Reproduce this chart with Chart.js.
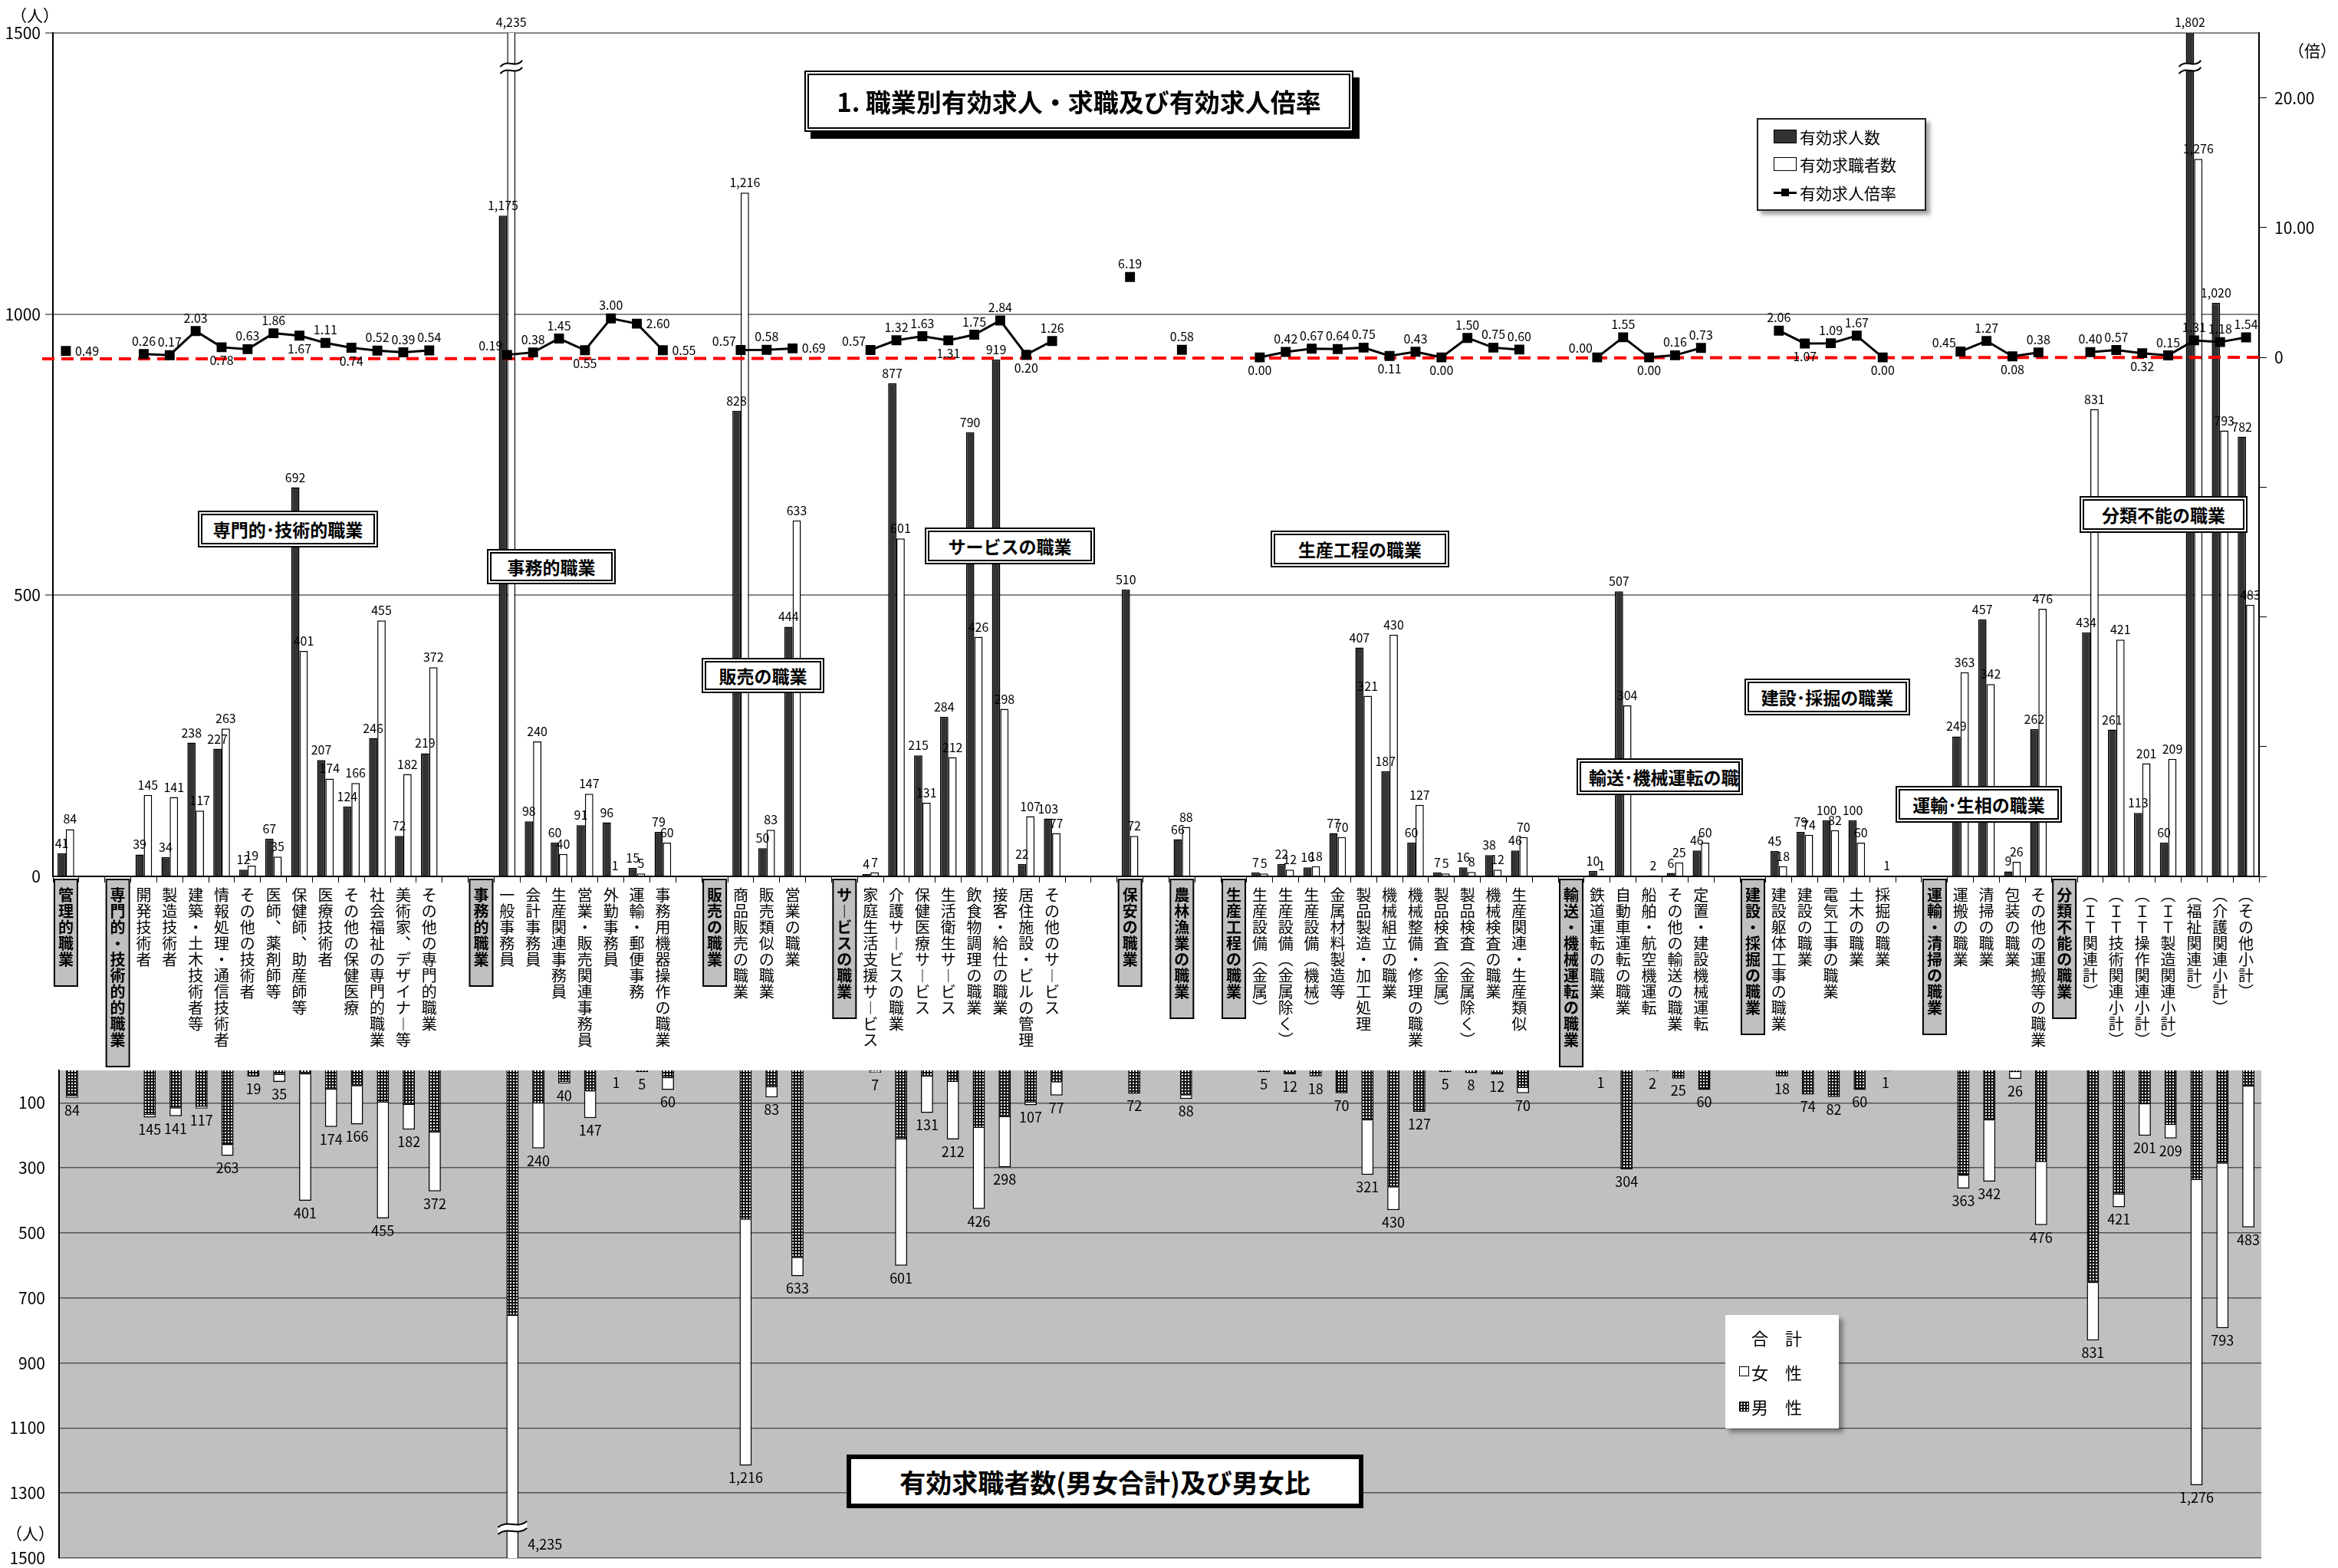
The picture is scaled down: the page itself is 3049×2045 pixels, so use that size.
<!DOCTYPE html>
<html lang="ja">
<head>
<meta charset="utf-8">
<title>職業別有効求人・求職及び有効求人倍率</title>
<script src="https://cdn.jsdelivr.net/npm/chart.js@4.4.1/dist/chart.umd.min.js"></script>
<style>
  body { margin: 0; background: #fff; }
  #wrap { position: relative; width: 3049px; height: 2045px; overflow: hidden; font-family: "Noto Sans CJK JP", sans-serif; color: #000; }
  canvas { position: absolute; left: 0; }
  .box { position: absolute; box-sizing: border-box; background: #fff; display: flex; align-items: center; justify-content: center; font-weight: bold; white-space: nowrap; overflow: hidden; }
  .grp { border: 6px double #000; font-size: 23px; }
  .unit { position: absolute; font-size: 21px; }
  .legend { position: absolute; box-sizing: border-box; background: #fff; box-shadow: 5px 5px 5px rgba(0,0,0,0.35); display: flex; flex-direction: column; justify-content: space-around; font-size: 21px; }
  .legend .item { display: flex; align-items: center; white-space: nowrap; }
  .sw { display: inline-block; box-sizing: border-box; border: 1.5px solid #000; }
</style>
</head>
<body>
<div id="wrap">
  <canvas id="topChart" width="3049" height="1395" style="top:0"></canvas>
  <canvas id="bottomChart" width="3049" height="650" style="top:1395px"></canvas>

  <div class="unit" style="left:14px;top:4px">（人）</div>
  <div class="unit" style="left:2984px;top:50px">（倍）</div>
  <div class="unit" style="left:8px;top:1984px">（人）</div>

  <div class="box" style="left:1049px;top:92px;width:716px;height:80px;border:6px double #000;box-shadow:8px 9px 0 #000;font-size:33px">1. 職業別有効求人・求職及び有効求人倍率</div>

  <div class="legend" style="left:2291px;top:154px;width:221px;height:121px;border:2px solid #222;padding:4px 0 4px 20px">
    <div class="item"><span class="sw" style="width:30px;height:18px;background:#333;margin-right:4px"></span>有効求人数</div>
    <div class="item"><span class="sw" style="width:30px;height:18px;background:#fff;margin-right:4px"></span>有効求職者数</div>
    <div class="item"><span style="position:relative;display:inline-block;width:30px;height:18px;margin-right:4px"><span style="position:absolute;left:0;top:8px;width:30px;height:3px;background:#000"></span><span style="position:absolute;left:10px;top:4px;width:10px;height:10px;background:#000"></span></span>有効求人倍率</div>
  </div>

  <div class="box grp" style="left:258px;top:666px;width:235px;height:48px">専門的･技術的職業</div>
  <div class="box grp" style="left:635px;top:716px;width:168px;height:46px">事務的職業</div>
  <div class="box grp" style="left:915px;top:858px;width:160px;height:46px">販売の職業</div>
  <div class="box grp" style="left:1206px;top:688px;width:222px;height:48px">サービスの職業</div>
  <div class="box grp" style="left:1657px;top:692px;width:233px;height:48px">生産工程の職業</div>
  <div class="box grp" style="left:2056px;top:989px;width:217px;height:48px;justify-content:flex-start;padding-left:10px">輸送･機械運転の職</div>
  <div class="box grp" style="left:2275px;top:885px;width:216px;height:48px">建設･採掘の職業</div>
  <div class="box grp" style="left:2472px;top:1025px;width:217px;height:48px">運輸･生相の職業</div>
  <div class="box grp" style="left:2712px;top:647px;width:219px;height:48px">分類不能の職業</div>

  <div class="legend" style="left:2250px;top:1715px;width:148px;height:148px;font-size:22px;padding:6px 0 6px 18px;box-shadow:5px 5px 6px rgba(0,0,0,0.4)">
    <div class="item"><span style="display:inline-block;width:16px"></span>合　計</div>
    <div class="item"><span class="sw" style="width:13px;height:13px;background:#fff;margin-right:3px"></span>女　性</div>
    <div class="item"><span id="maleSw" class="sw" style="width:13px;height:13px;background:#111;margin-right:3px"></span>男　性</div>
  </div>

  <div class="box" style="left:1104px;top:1897px;width:674px;height:70px;border:6px solid #000;font-size:34px">有効求職者数(男女合計)及び男女比</div>
</div>

<script>
const _ = null;

// slots along the x axis (empty strings are spacer slots)
const categories = [
  '管理的職業', '',
  '専門的・技術的的職業', '開発技術者', '製造技術者', '建築・土木技術者等', '情報処理・通信技術者', 'その他の技術者',
  '医師、薬剤師等', '保健師、助産師等', '医療技術者', 'その他の保健医療', '社会福祉の専門的職業', '美術家、デザイナー等', 'その他の専門的職業',
  '', '事務的職業', '一般事務員', '会計事務員', '生産関連事務員', '営業・販売関連事務員', '外勤事務員', '運輸・郵便事務', '事務用機器操作の職業',
  '', '販売の職業', '商品販売の職業', '販売類似の職業', '営業の職業',
  '', 'サービスの職業', '家庭生活支援サービス', '介護サービスの職業', '保健医療サービス', '生活衛生サービス', '飲食物調理の職業', '接客・給仕の職業', '居住施設・ビルの管理', 'その他のサービス',
  '', '', '保安の職業', '', '農林漁業の職業', '',
  '生産工程の職業', '生産設備（金属）', '生産設備（金属除く）', '生産設備（機械）', '金属材料製造等', '製品製造・加工処理', '機械組立の職業', '機械整備・修理の職業',
  '製品検査（金属）', '製品検査（金属除く）', '機械検査の職業', '生産関連・生産類似',
  '', '輸送・機械運転の職業', '鉄道運転の職業', '自動車運転の職業', '船舶・航空機運転', 'その他の輸送の職業', '定置・建設機械運転',
  '', '建設・採掘の職業', '建設躯体工事の職業', '建設の職業', '電気工事の職業', '土木の職業', '採掘の職業',
  '', '運輸・清掃の職業', '運搬の職業', '清掃の職業', '包装の職業', 'その他の運搬等の職業',
  '分類不能の職業', '（ＩＴ関連計）', '（ＩＴ技術関連小計）', '（ＩＴ操作関連小計）', '（ＩＴ製造関連小計）', '（福祉関連計）', '（介護関連小計）', '（その他小計）'
];

const groupHeads = ['管理的職業', '専門的・技術的的職業', '事務的職業', '販売の職業', 'サービスの職業', '保安の職業', '農林漁業の職業',
  '生産工程の職業', '輸送・機械運転の職業', '建設・採掘の職業', '運輸・清掃の職業', '分類不能の職業'];

// 有効求人数
const jobOffers = [
  41, _,
  _, 39, 34, 238, 227, 12, 67, 692, 207, 124, 246, 72, 219,
  _, _, 1175, 98, 60, 91, 96, 15, 79,
  _, _, 828, 50, 444,
  _, _, 4, 877, 215, 284, 790, 919, 22, 103,
  _, _, 510, _, 66, _,
  _, 7, 22, 16, 77, 407, 187, 60, 7, 16, 38, 46,
  _, _, 10, 507, 0, 6, 46,
  _, _, 45, 79, 100, 100, 0,
  _, _, 249, 457, 9, 262,
  _, 434, 261, 113, 60, 1802, 1020, 782
];

// 有効求職者数 (男女合計)
const jobSeekers = [
  84, _,
  _, 145, 141, 117, 263, 19, 35, 401, 174, 166, 455, 182, 372,
  _, _, 4235, 240, 40, 147, 1, 5, 60,
  _, _, 1216, 83, 633,
  _, _, 7, 601, 131, 212, 426, 298, 107, 77,
  _, _, 72, _, 88, _,
  _, 5, 12, 18, 70, 321, 430, 127, 5, 8, 12, 70,
  _, _, 1, 304, 2, 25, 60,
  _, _, 18, 74, 82, 60, 1,
  _, _, 363, 342, 26, 476,
  _, 831, 421, 201, 209, 1276, 793, 483
];

// 有効求人倍率
const offerRatio = [
  0.49, _,
  _, 0.26, 0.17, 2.03, 0.78, 0.63, 1.86, 1.67, 1.11, 0.74, 0.52, 0.39, 0.54,
  _, _, 0.19, 0.38, 1.45, 0.55, 3.00, 2.60, 0.55,
  _, _, 0.57, 0.58, 0.69,
  _, _, 0.57, 1.32, 1.63, 1.31, 1.75, 2.84, 0.20, 1.26,
  _, _, 6.19, _, 0.58, _,
  _, 0.00, 0.42, 0.67, 0.64, 0.75, 0.11, 0.43, 0.00, 1.50, 0.75, 0.60,
  _, _, 0.00, 1.55, 0.00, 0.16, 0.73,
  _, _, 2.06, 1.07, 1.09, 1.67, 0.00,
  _, _, 0.45, 1.27, 0.08, 0.38,
  _, 0.40, 0.57, 0.32, 0.15, 1.31, 1.18, 1.54
];

// 有効求職者数 男性
const seekersMale = [
  79, _,
  _, 137, 117, 112, 230, 19, 14, 12, 59, 49, 99, 106, 191,
  _, _, 755, 102, 35, 65, 1, 5, 24,
  _, _, 459, 52, 577,
  _, _, 3, 212, 19, 35, 177, 144, 99, 37,
  _, _, 72, _, 77, _,
  _, 5, 12, 18, 70, 154, 360, 127, 5, 8, 12, 54,
  _, _, 1, 304, 2, 25, 60,
  _, _, 18, 74, 82, 60, 1,
  _, _, 324, 154, 5, 282,
  _, 654, 382, 104, 168, 337, 287, 50
];

// 有効求職者数 女性
const seekersFemale = [
  5, _,
  _, 8, 24, 5, 33, 0, 21, 389, 115, 117, 356, 76, 181,
  _, _, 3480, 138, 5, 82, 0, 0, 36,
  _, _, 757, 31, 56,
  _, _, 4, 389, 112, 177, 249, 154, 8, 40,
  _, _, 0, _, 11, _,
  _, 0, 0, 0, 0, 167, 70, 0, 0, 0, 0, 16,
  _, _, 0, 0, 0, 0, 0,
  _, _, 0, 0, 0, 0, 0,
  _, _, 39, 188, 21, 194,
  _, 177, 39, 97, 41, 939, 506, 433
];

const rightTicks = [-40, -30, -20, -10, 0, 10, 20];
const bottomTicks = [100, 300, 500, 700, 900, 1100, 1300, 1500];

// where each ratio label sits relative to its point (default: above)
const ratioPlace = { 0: 'right', 6: 'below', 9: 'below', 11: 'below', 17: 'left', 20: 'below', 22: 'right', 23: 'right',
  26: 'left', 28: 'right', 31: 'left', 34: 'below', 37: 'below', 46: 'below', 51: 'below', 53: 'below', 59: 'left',
  61: 'below', 67: 'below', 70: 'below', 73: 'left', 75: 'below', 80: 'below' };

const JP = '"Noto Sans CJK JP", "Noto Sans", sans-serif';
Chart.defaults.font.family = JP;
Chart.defaults.color = '#000';

const vertForms = { 'ー': '︱', '（': '︵', '）': '︶', '、': '︑' };
const toVertical = (s) => s ? Array.from(s).map((c) => vertForms[c] || c) : '';
const fmt = (v) => v.toLocaleString('en-US');

function drawBreak(ctx, x, y, half) {
  const gap = 9;
  const curve = (dy) => {
    ctx.moveTo(x - half, y + 4 + dy);
    ctx.bezierCurveTo(x - half / 3, y - 7 + dy, x + half / 3, y + 7 + dy, x + half, y - 4 + dy);
  };
  ctx.save();
  ctx.beginPath();
  curve(0);
  ctx.lineTo(x + half, y - 4 + gap);
  ctx.bezierCurveTo(x + half / 3, y + 7 + gap, x - half / 3, y - 7 + gap, x - half, y + 4 + gap);
  ctx.closePath();
  ctx.fillStyle = '#fff';
  ctx.fill();
  ctx.strokeStyle = '#000';
  ctx.lineWidth = 2;
  ctx.beginPath();
  curve(0);
  curve(gap);
  ctx.stroke();
  ctx.restore();
}

// gray boxes behind the group names on the x axis
const groupBoxes = {
  id: 'groupBoxes',
  beforeDraw(chart) {
    const { ctx, chartArea } = chart;
    const x = chart.scales.x;
    ctx.save();
    categories.forEach((c, i) => {
      if (!groupHeads.includes(c)) return;
      const px = x.getPixelForValue(i);
      const h = Array.from(c).length * 21 + 34;
      ctx.fillStyle = '#c0c0c0';
      ctx.fillRect(px - 15, chartArea.bottom + 4, 30, h);
      ctx.strokeStyle = '#000';
      ctx.lineWidth = 2;
      ctx.strokeRect(px - 15, chartArea.bottom + 4, 30, h);
    });
    ctx.restore();
  }
};

const topLabels = {
  id: 'topLabels',
  beforeDatasetDraw(chart, args) {
    if (args.index !== 0) return;
    const { ctx, chartArea } = chart;
    const y = chart.scales.y1.getPixelForValue(0);
    ctx.save();
    ctx.strokeStyle = '#ff0000';
    ctx.lineWidth = 4;
    ctx.setLineDash([16, 9]);
    ctx.beginPath();
    ctx.moveTo(chartArea.left - 14, y + 2);
    ctx.lineTo(chartArea.right, y);
    ctx.stroke();
    ctx.restore();
  },
  afterDatasetsDraw(chart) {
    const { ctx, chartArea } = chart;
    const yMax = chart.scales.y.max;
    ctx.save();
    ctx.font = '16px ' + JP;
    ctx.fillStyle = '#000';
    [1, 2].forEach((di) => {
      const data = chart.data.datasets[di].data;
      chart.getDatasetMeta(di).data.forEach((el, i) => {
        const v = data[i];
        if (!v) return;
        ctx.textAlign = 'center';
        ctx.textBaseline = 'bottom';
        if (v > yMax) {
          drawBreak(ctx, el.x, chartArea.top + 40, el.width / 2 + 9);
          ctx.fillText(fmt(v), el.x, chartArea.top - 6);
        } else {
          ctx.fillText(fmt(v), el.x, el.y - 5);
        }
      });
    });
    const ratios = chart.data.datasets[0].data;
    chart.getDatasetMeta(0).data.forEach((el, i) => {
      const v = ratios[i];
      if (v === null) return;
      const place = ratioPlace[i] || 'above';
      const t = v.toFixed(2);
      if (place === 'below') { ctx.textAlign = 'center'; ctx.textBaseline = 'top'; ctx.fillText(t, el.x, el.y + 9); }
      else if (place === 'right') { ctx.textAlign = 'left'; ctx.textBaseline = 'middle'; ctx.fillText(t, el.x + 12, el.y); }
      else if (place === 'left') { ctx.textAlign = 'right'; ctx.textBaseline = 'bottom'; ctx.fillText(t, el.x - 6, el.y - 4); }
      else { ctx.textAlign = 'center'; ctx.textBaseline = 'bottom'; ctx.fillText(t, el.x, el.y - 9); }
    });
    ctx.restore();
  }
};

new Chart(document.getElementById('topChart'), {
  type: 'bar',
  data: {
    labels: categories.map(toVertical),
    datasets: [
      { type: 'line', label: '有効求人倍率', data: offerRatio, yAxisID: 'y1', order: 0,
        borderColor: '#000', borderWidth: 3, pointStyle: 'rect', pointRadius: 7,
        pointBackgroundColor: '#000', pointBorderColor: '#000', spanGaps: false, tension: 0 },
      { label: '有効求人数', data: jobOffers, yAxisID: 'y', order: 1, clip: 0,
        backgroundColor: '#333333', borderColor: '#000', borderWidth: 1.5 },
      { label: '有効求職者数', data: jobSeekers, yAxisID: 'y', order: 1, clip: 0,
        backgroundColor: '#ffffff', borderColor: '#000', borderWidth: 1.5 }
    ]
  },
  options: {
    responsive: false,
    animation: false,
    layout: { padding: { top: 43, left: 0, right: 0, bottom: 0 } },
    plugins: { legend: { display: false }, tooltip: { enabled: false } },
    datasets: { bar: { categoryPercentage: 0.64, barPercentage: 1 } },
    scales: {
      x: {
        grid: { offset: true, drawOnChartArea: false, tickLength: 8, color: '#000' },
        border: { color: '#000', width: 2 },
        ticks: {
          autoSkip: false, maxRotation: 0, minRotation: 0, padding: 6, color: '#000',
          font: (ctx) => ({ family: JP, size: 20, lineHeight: 1.05,
            weight: groupHeads.includes(categories[ctx.index]) ? 'bold' : 'normal' })
        },
        afterFit: (s) => { s.height = 252; }
      },
      y: {
        min: 0, max: 1500,
        ticks: { stepSize: 500, padding: 6, font: { size: 21 }, callback: (v) => String(v) },
        grid: { color: (ctx) => ctx.tick.value === 0 ? 'rgba(0,0,0,0)' : '#888', lineWidth: 2, tickLength: 10 },
        border: { color: '#000', width: 2 },
        afterFit: (s) => { s.width = 69; }
      },
      y1: {
        position: 'right', min: -40, max: 25,
        afterBuildTicks: (s) => { s.ticks = rightTicks.map((v) => ({ value: v })); },
        ticks: {
          padding: 10, font: { size: 21 },
          callback: (v) => v === 0 ? '0' : (v > 0 ? v.toFixed(2) : '')
        },
        grid: { drawOnChartArea: false, tickLength: 10, color: '#000' },
        border: { color: '#000', width: 2 },
        afterFit: (s) => { s.width = 103; }
      }
    }
  },
  plugins: [groupBoxes, topLabels]
});

// stipple fill for the male part
const pc = document.createElement('canvas');
pc.width = 4; pc.height = 4;
const pctx = pc.getContext('2d');
pctx.fillStyle = '#111';
pctx.fillRect(0, 0, 4, 4);
pctx.fillStyle = '#fff';
pctx.fillRect(1, 1, 2, 2);
const bottomCanvas = document.getElementById('bottomChart');
const dotPattern = bottomCanvas.getContext('2d').createPattern(pc, 'repeat');
document.getElementById('maleSw').style.background = 'url(' + pc.toDataURL() + ')';

const grayBack = {
  id: 'grayBack',
  beforeDraw(chart) {
    const { ctx, chartArea } = chart;
    ctx.save();
    ctx.fillStyle = '#c0c0c0';
    ctx.fillRect(chartArea.left, chartArea.top, chartArea.right - chartArea.left, chartArea.bottom - chartArea.top);
    ctx.restore();
  }
};

const totalLabels = {
  id: 'totalLabels',
  afterDatasetsDraw(chart) {
    const { ctx, chartArea } = chart;
    const y = chart.scales.y;
    ctx.save();
    ctx.font = '18px ' + JP;
    ctx.fillStyle = '#000';
    chart.getDatasetMeta(1).data.forEach((el, i) => {
      const v = jobSeekers[i];
      if (!v) return;
      if (v > y.max) {
        drawBreak(ctx, el.x, chartArea.bottom - 44, el.width / 2 + 11);
        ctx.textAlign = 'left';
        ctx.textBaseline = 'middle';
        ctx.fillText(fmt(v), el.x + 20, chartArea.bottom - 18);
      } else {
        ctx.textAlign = 'center';
        ctx.textBaseline = 'top';
        ctx.fillText(fmt(v), el.x, y.getPixelForValue(v) + 7);
      }
    });
    ctx.restore();
  }
};

new Chart(bottomCanvas, {
  type: 'bar',
  data: {
    labels: categories,
    datasets: [
      { label: '男性', data: seekersMale, backgroundColor: dotPattern, borderColor: '#000', borderWidth: 1.5, clip: 0 },
      { label: '女性', data: seekersFemale, backgroundColor: '#fff', borderColor: '#000', borderWidth: 1.5, clip: 0 }
    ]
  },
  options: {
    responsive: false,
    animation: false,
    layout: { padding: { top: 1, bottom: 13, left: 0, right: 100 } },
    plugins: { legend: { display: false }, tooltip: { enabled: false } },
    datasets: { bar: { categoryPercentage: 0.47, barPercentage: 1 } },
    scales: {
      x: { display: false, stacked: true },
      y: {
        stacked: true, reverse: true, min: 0, max: 1500,
        afterBuildTicks: (s) => { s.ticks = bottomTicks.map((v) => ({ value: v })); },
        // tiny lineHeight + invisible tick marks keep the label overflow padding from shrinking the plot
        ticks: { padding: 0, font: { size: 21, lineHeight: 0.1 }, callback: (v) => String(v) },
        grid: { color: '#555', lineWidth: 1.5, drawTicks: true, tickLength: 18, tickColor: 'rgba(0,0,0,0)' },
        border: { color: '#000', width: 2 },
        afterFit: (s) => { s.width = 77; }
      }
    }
  },
  plugins: [grayBack, totalLabels]
});
</script>
</body>
</html>
